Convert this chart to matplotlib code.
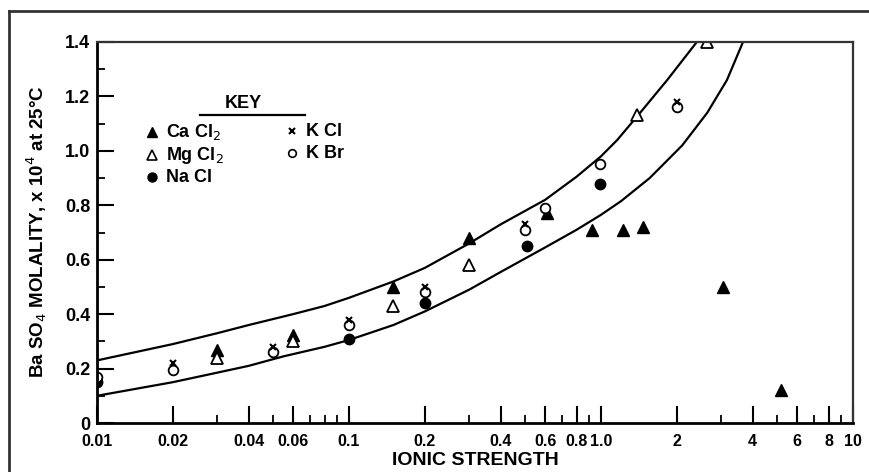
import matplotlib.pyplot as plt
from matplotlib.ticker import FixedLocator, NullFormatter
from matplotlib.lines import Line2D

plt.rcParams['font.family'] = ['Liberation Sans', 'DejaVu Sans']

### data
cacl2_x = [0.03, 0.06, 0.15, 0.30, 0.61, 0.92, 1.22, 1.47, 3.05, 5.2]
cacl2_y = [0.27, 0.325, 0.50, 0.68, 0.77, 0.71, 0.71, 0.72, 0.50, 0.12]

mgcl2_x = [0.03, 0.06, 0.15, 0.30, 1.39, 2.64]
mgcl2_y = [0.24, 0.30, 0.43, 0.58, 1.13, 1.40]

nacl_x = [0.01, 0.10, 0.20, 0.51, 0.99]
nacl_y = [0.15, 0.31, 0.44, 0.65, 0.88]

kcl_x = [0.02, 0.05, 0.10, 0.20, 0.50, 2.0]
kcl_y = [0.22, 0.28, 0.38, 0.50, 0.73, 1.18]

kbr_x = [0.01, 0.02, 0.05, 0.10, 0.20, 0.50, 0.60, 0.99, 2.0]
kbr_y = [0.17, 0.195, 0.26, 0.36, 0.48, 0.71, 0.79, 0.95, 1.16]

upper_x = [0.01, 0.02, 0.03, 0.04, 0.06, 0.08, 0.1, 0.15, 0.2, 0.3, 0.4, 0.6, 0.8,
           1.0, 1.16, 1.43, 1.83, 2.4]
upper_y = [0.23, 0.29, 0.33, 0.36, 0.40, 0.43, 0.46, 0.52, 0.57, 0.66, 0.73, 0.82, 0.905,
           0.98, 1.04, 1.14, 1.26, 1.40]

lower_x = [0.01, 0.02, 0.03, 0.04, 0.055, 0.08, 0.1, 0.15, 0.2, 0.3, 0.4, 0.6, 0.8,
           1.0, 1.2, 1.56, 2.1, 2.64, 3.16, 3.66]
lower_y = [0.10, 0.15, 0.185, 0.21, 0.245, 0.28, 0.305, 0.36, 0.41, 0.49, 0.555, 0.645, 0.71,
           0.765, 0.815, 0.90, 1.02, 1.14, 1.26, 1.40]

xtick_vals = [0.01, 0.02, 0.04, 0.06, 0.1, 0.2, 0.4, 0.6, 0.8, 1.0, 2, 4, 6, 8, 10]
xtick_labels = ['0.01', '0.02', '0.04', '0.06', '0.1', '0.2', '0.4', '0.6', '0.8', '1.0',
                '2', '4', '6', '8', '10']
ytick_vals = [0, 0.2, 0.4, 0.6, 0.8, 1.0, 1.2, 1.4]
ytick_labels = ['0', '0.2', '0.4', '0.6', '0.8', '1.0', '1.2', '1.4']

fig = plt.figure(figsize=(8.69, 4.72), dpi=100)
ax = fig.add_axes([97/869, 49/472, 756/869, 381/472])

ax.plot(upper_x, upper_y, color='black', lw=1.6, solid_joinstyle='round')
ax.plot(lower_x, lower_y, color='black', lw=1.6, solid_joinstyle='round')

ms = 8
ax.plot(cacl2_x, cacl2_y, '^', color='black', ms=ms, ls='none')
ax.plot(mgcl2_x, mgcl2_y, '^', mfc='white', mec='black', mew=1.3, ms=ms, ls='none')
ax.plot(nacl_x, nacl_y, 'o', color='black', ms=7.5, ls='none')
ax.plot(kbr_x, kbr_y, 'o', mfc='white', mec='black', mew=1.3, ms=7, ls='none')
ax.plot(kcl_x, kcl_y, 'x', color='black', mew=1.5, ms=5, ls='none')

ax.set_xscale('log')
ax.set_xlim(0.01, 10)
ax.set_ylim(0, 1.4)

ax.xaxis.set_major_locator(FixedLocator(xtick_vals))
ax.set_xticklabels(xtick_labels, fontsize=11.5, fontweight='bold')
minor_x = [m * 10.0**e for e in (-2, -1, 0) for m in range(1, 10)]
minor_x = [v for v in minor_x if not any(abs(v - t) < 1e-9 for t in xtick_vals)]
ax.xaxis.set_minor_locator(FixedLocator(minor_x))
ax.xaxis.set_minor_formatter(NullFormatter())

ax.set_yticks(ytick_vals)
ax.set_yticklabels(ytick_labels, fontsize=13, fontweight='bold')
ax.set_yticks([0.1, 0.3, 0.5, 0.7, 0.9, 1.1, 1.3], minor=True)

ax.tick_params(which='major', direction='in', length=12, width=1.5)
ax.tick_params(which='minor', direction='in', length=6, width=1.3)
ax.tick_params(axis='x', which='both', top=False, pad=8)
ax.tick_params(axis='y', which='both', right=False, pad=5)

for s in ['left', 'bottom']:
    ax.spines[s].set_linewidth(2.0)
for s in ['top', 'right']:
    ax.spines[s].set_linewidth(1.6)
    ax.spines[s].set_color('#333333')

ax.set_xlabel('IONIC STRENGTH', fontsize=14, fontweight='bold', labelpad=2)
fig.text(37/869, 1 - 232/472, 'Ba SO$_4$ MOLALITY, x 10$^4$ at 25°C', rotation=90,
         ha='center', va='center', fontsize=13.5, fontweight='bold')

### key
fig.text(243/869, 1 - 103/472, 'KEY', ha='center', va='center', fontsize=13, fontweight='bold')
fig.add_artist(Line2D([200/869, 305/869], [1 - 115/472, 1 - 115/472], color='black', lw=1.6))
key = [
    (152, 132, dict(marker='^', color='black', ms=6.5), 'Ca Cl$_2$'),
    (152, 155, dict(marker='^', mfc='white', mec='black', mew=1.2, ms=6.5), 'Mg Cl$_2$'),
    (152, 177, dict(marker='o', color='black', ms=6.5), 'Na Cl'),
    (292, 131, dict(marker='x', color='black', mew=1.5, ms=5), 'K Cl'),
    (292, 153, dict(marker='o', mfc='white', mec='black', mew=1.2, ms=5.5), 'K Br'),
]
for px, py, mk, label in key:
    fig.add_artist(Line2D([px/869], [1 - py/472], ls='none', **mk))
    fig.text((px + 14)/869, 1 - py/472, label, ha='left', va='center',
             fontsize=13, fontweight='bold')

### outer frame of the scan
fig.add_artist(Line2D([9/869, 1], [1 - 11/472, 1 - 11/472], color='#333333', lw=2))
fig.add_artist(Line2D([9/869, 9/869], [0, 1 - 11/472], color='#333333', lw=2))

plt.savefig('out.png', dpi=100)
